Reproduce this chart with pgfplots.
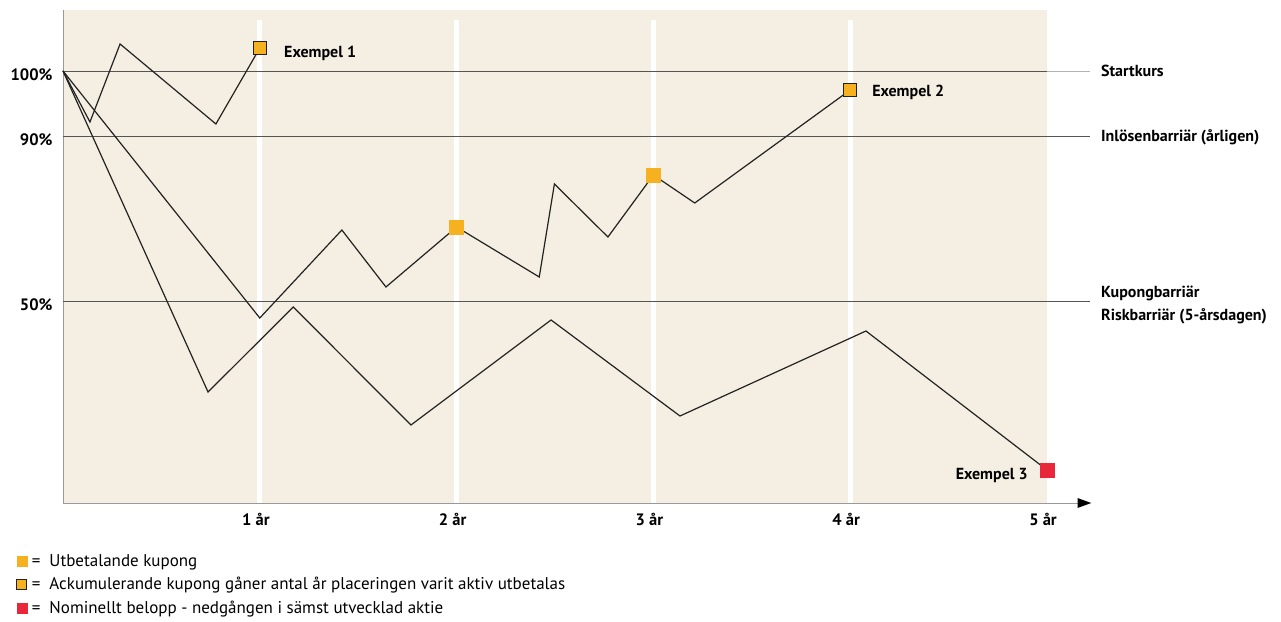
\documentclass[border=0pt]{standalone}
\usepackage{fontspec}
\setmainfont{PT Sans}
\usepackage{pgfplots}
\pgfplotsset{compat=1.18}
\definecolor{beige}{HTML}{F4EFE2}
\definecolor{korange}{HTML}{F5B120}
\definecolor{kred}{HTML}{E8283A}
\definecolor{ln}{HTML}{222222}
\definecolor{bar}{HTML}{555555}
\begin{document}
\begin{tikzpicture}[x=1pt,y=1pt]
\useasboundingbox (0,0) rectangle (1281,621);
\begin{axis}[
  at={(63pt,118pt)}, anchor=south west,
  width=984pt, height=493pt, scale only axis,
  xmin=0, xmax=5, ymin=0, ymax=493,
  axis line style={draw=none},
  axis background/.style={fill=beige},
  clip=false,
  xtick={1,2,3,4,5}, xticklabels={1 år,2 år,3 år,4 år,5 år},
  ytick={432,367,202}, yticklabels={100\%,90\%,50\%},
  major tick length=0pt,
  ticklabel style={font=\fontsize{16.5}{18}\selectfont\bfseries},
  xticklabel style={yshift=-7pt, xshift=-4pt},
  yticklabel style={xshift=-7pt, yshift=-4pt},
  legend image code/.code={\draw[#1] plot coordinates {(5pt,0pt)};},
  legend style={at={(rel axis cs:-0.047,-0.100)}, anchor=north west, draw=none, fill=none,
    font=\fontsize{17}{19}\selectfont, row sep=5.5pt, inner sep=0pt},
  legend cell align=left,
]
% white year lines
\foreach \t in {1,2,3,4} {
  \edef\temp{\noexpand\draw[white, line width=5pt] (axis cs:\t,0) -- (axis cs:\t,483);}
  \temp
}
% axes
\draw[gray!80, line width=1pt] (axis cs:0,0) -- (axis cs:0,493);
\draw[gray!80, line width=1pt] (axis cs:0,0) -- (axis cs:5.17,0);
\fill[black] (axis cs:5.155,5) -- (axis cs:5.225,0) -- (axis cs:5.155,-5) -- cycle;
% barrier lines
\draw[bar, line width=0.9pt] (axis cs:0,432) -- (axis cs:5,432);
\draw[gray!60, line width=0.9pt] (axis cs:5,432) -- (axis cs:5.22,432);
\draw[bar, line width=0.9pt] (axis cs:0,367) -- (axis cs:5.22,367);
\draw[bar, line width=0.9pt] (axis cs:0,202) -- (axis cs:5.22,202);
\begin{scope}[every node/.style={font=\fontsize{16}{18}\selectfont\bfseries, anchor=west, inner sep=0pt}]
\node at (axis cs:5.274,432) {Startkurs};
\node at (axis cs:5.274,366) {Inlösenbarriär (årligen)};
\node at (axis cs:5.274,210) {Kupongbarriär};
\node at (axis cs:5.274,187) {Riskbarriär (5-årsdagen)};
\node at (axis cs:1.123,450) {Exempel 1};
\node at (axis cs:4.111,411) {Exempel 2};
\node[anchor=east] at (axis cs:4.903,28) {Exempel 3};
\end{scope}
% Example paths
\addplot[ln, line width=1.2pt, forget plot] coordinates {
  (0,432) (0.137,381) (0.290,459) (0.777,379) (1.0,455)};
\addplot[ln, line width=1.2pt, forget plot] coordinates {
  (0,432) (1.0,185) (1.417,273) (1.641,216) (2.0,276) (2.42,226) (2.497,319)
  (2.769,266) (3.0,328) (3.21,300) (4.0,413)};
\addplot[ln, line width=1.2pt, forget plot] coordinates {
  (0,432) (0.737,111) (1.17,196) (1.768,78) (2.48,183) (3.135,87) (4.08,172) (5.0,33)};
% markers
\addplot[only marks, mark=square*, mark size=6.5pt, mark options={fill=korange, draw=ln, line width=1pt}, forget plot]
  coordinates {(1.0,455) (4.0,413)};
\addplot[only marks, mark=square*, mark size=7pt, mark options={fill=korange, draw=korange}, forget plot]
  coordinates {(2.0,276) (3.0,328)};
\addplot[only marks, mark=square*, mark size=7pt, mark options={fill=kred, draw=kred}, forget plot]
  coordinates {(5.0,33)};
% legend
\addlegendimage{only marks, mark=square*, mark size=5pt, mark options={fill=korange, draw=korange}}
\addlegendentry{\,=\ \ Utbetalande kupong}
\addlegendimage{only marks, mark=square*, mark size=5pt, mark options={fill=korange, draw=ln, line width=1pt}}
\addlegendentry{\,=\ \ Ackumulerande kupong gåner antal år placeringen varit aktiv utbetalas}
\addlegendimage{only marks, mark=square*, mark size=5pt, mark options={fill=kred, draw=kred}}
\addlegendentry{\,=\ \ Nominellt belopp - nedgången i sämst utvecklad aktie}
\end{axis}
\end{tikzpicture}
\end{document}
